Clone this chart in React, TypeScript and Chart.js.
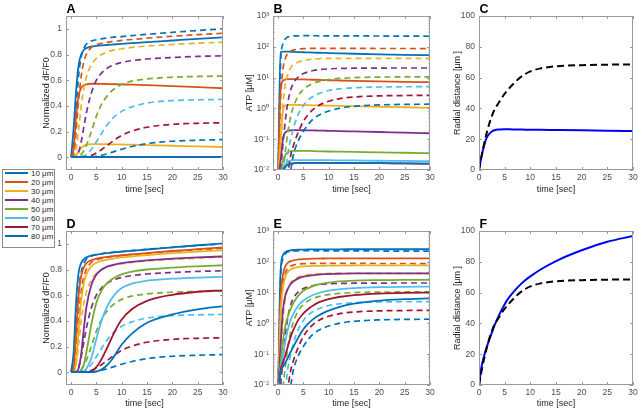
import React, { useEffect, useRef } from "react";
import { Chart, registerables } from "chart.js";

Chart.register(...registerables);

const W = 642;
const H = 410;
const FONT = "'Liberation Sans', Arial, Helvetica, sans-serif";
const TICK_COLOR = "#4d4d4d";
const TITLE_COLOR = "#262626";
const BOX_COLOR = "#9a9a9a";

// shared time axis [sec]
const T = [0, 0.5, 1, 1.5, 2, 2.5, 3, 4, 5, 6, 7, 8, 9, 10, 12, 15, 20, 25, 30];

const RADII = ["10 μm", "20 μm", "30 μm", "40 μm", "50 μm", "60 μm", "70 μm", "80 μm"];
const COLORS = ["#0072BD", "#D95319", "#EDB120", "#7E2F8E", "#77AC30", "#4DBEEE", "#A2142F", "#0072BD"];

const X_TICKS = [0, 5, 10, 15, 20, 25, 30];
const DF_TICKS = [0, 0.2, 0.4, 0.6, 0.8, 1];
const LOG_TICKS = [0.01, 0.1, 1, 10, 100, 1000];
const LOG_LABELS = ["10⁻²", "10⁻¹", "10⁰", "10¹", "10²", "10³"];
const RAD_TICKS = [0, 20, 40, 60, 80, 100];

// ---- Normalized dF/F0, dashed (A and D)
const DF_D10 = [0, 0.1, 0.38, 0.64, 0.78, 0.845, 0.88, 0.905, 0.915, 0.922, 0.928, 0.933, 0.937, 0.94, 0.947, 0.957, 0.973, 0.987, 1.0];
const DF_D20 = [0, 0.02, 0.2, 0.45, 0.63, 0.74, 0.8, 0.855, 0.875, 0.886, 0.894, 0.9, 0.905, 0.91, 0.917, 0.927, 0.942, 0.955, 0.966];
const DF_D30 = [0, 0, 0.06, 0.22, 0.4, 0.53, 0.62, 0.72, 0.77, 0.8, 0.818, 0.83, 0.838, 0.845, 0.855, 0.866, 0.878, 0.888, 0.896];
const DF_D40 = [0, 0, 0.005, 0.04, 0.12, 0.23, 0.34, 0.5, 0.6, 0.655, 0.69, 0.712, 0.727, 0.738, 0.752, 0.765, 0.777, 0.785, 0.79];
const DF_D50 = [0, 0, 0, 0.005, 0.02, 0.05, 0.09, 0.2, 0.32, 0.41, 0.47, 0.515, 0.545, 0.567, 0.593, 0.61, 0.623, 0.629, 0.632];
const DF_D60 = [0, 0, 0, 0, 0.003, 0.01, 0.02, 0.06, 0.12, 0.185, 0.245, 0.295, 0.33, 0.357, 0.392, 0.422, 0.441, 0.447, 0.45];
const DF_D70 = [0, 0, 0, 0, 0, 0, 0.004, 0.014, 0.033, 0.058, 0.087, 0.117, 0.145, 0.17, 0.203, 0.233, 0.256, 0.264, 0.268];
const DF_D80 = [0, 0, 0, 0, 0, 0, 0, 0.002, 0.007, 0.015, 0.025, 0.037, 0.05, 0.062, 0.083, 0.106, 0.124, 0.132, 0.137];

// ---- Normalized dF/F0, solid (A)
const DFA_S10 = [0, 0.22, 0.52, 0.72, 0.8, 0.835, 0.85, 0.862, 0.867, 0.871, 0.874, 0.877, 0.88, 0.883, 0.888, 0.896, 0.909, 0.922, 0.933];
const DFA_S20 = [0, 0.06, 0.32, 0.48, 0.54, 0.56, 0.568, 0.572, 0.572, 0.571, 0.57, 0.569, 0.568, 0.567, 0.565, 0.561, 0.554, 0.545, 0.537];
const DFA_S30 = [0, 0, 0.015, 0.045, 0.07, 0.087, 0.095, 0.101, 0.102, 0.102, 0.101, 0.1, 0.1, 0.099, 0.097, 0.094, 0.089, 0.084, 0.079];
const DFA_S40 = [0, 0, 0, 0, 0, 0, 0, 0, 0, 0, 0, 0, 0, 0, 0, 0, 0, 0, 0];
const DFA_S50 = [0, 0, 0, 0, 0, 0, 0, 0, 0, 0, 0, 0, 0, 0, 0, 0, 0, 0, 0];
const DFA_S60 = [0, 0, 0, 0, 0, 0, 0, 0, 0, 0, 0, 0, 0, 0, 0, 0, 0, 0, 0];
const DFA_S70 = [0, 0, 0, 0, 0, 0, 0, 0, 0, 0, 0, 0, 0, 0, 0, 0, 0, 0, 0];
const DFA_S80 = [0, 0, 0, 0, 0, 0, 0, 0, 0, 0, 0, 0, 0, 0, 0, 0, 0, 0, 0];

// ---- Normalized dF/F0, solid (D)
const DFD_S10 = [0, 0.15, 0.55, 0.78, 0.85, 0.88, 0.895, 0.908, 0.916, 0.922, 0.927, 0.931, 0.935, 0.939, 0.946, 0.956, 0.973, 0.989, 1.003];
const DFD_S20 = [0, 0.03, 0.3, 0.6, 0.75, 0.815, 0.848, 0.872, 0.884, 0.892, 0.898, 0.903, 0.907, 0.911, 0.918, 0.928, 0.944, 0.958, 0.972];
const DFD_S30 = [0, 0, 0.08, 0.33, 0.56, 0.69, 0.76, 0.825, 0.853, 0.867, 0.876, 0.883, 0.889, 0.894, 0.902, 0.913, 0.928, 0.94, 0.95];
const DFD_S40 = [0, 0, 0, 0.03, 0.14, 0.33, 0.5, 0.68, 0.76, 0.798, 0.82, 0.833, 0.842, 0.85, 0.86, 0.871, 0.884, 0.894, 0.902];
const DFD_S50 = [0, 0, 0, 0, 0.015, 0.06, 0.15, 0.37, 0.54, 0.635, 0.69, 0.722, 0.745, 0.762, 0.783, 0.8, 0.815, 0.825, 0.833];
const DFD_S60 = [0, 0, 0, 0, 0, 0.005, 0.025, 0.11, 0.26, 0.4, 0.5, 0.572, 0.622, 0.655, 0.69, 0.713, 0.729, 0.737, 0.743];
const DFD_S70 = [0, 0, 0, 0, 0, 0, 0, 0.01, 0.04, 0.1, 0.18, 0.265, 0.345, 0.41, 0.49, 0.555, 0.603, 0.626, 0.638];
const DFD_S80 = [0, 0, 0, 0, 0, 0, 0, 0, 0.005, 0.02, 0.05, 0.095, 0.155, 0.215, 0.3, 0.385, 0.45, 0.49, 0.515];

// ---- ATP [uM], dashed (B and E)
const ATP_D10 = [0.005, 30, 130, 185, 210, 220, 225, 228, 229, 229, 229, 228, 228, 228, 227, 226, 224, 222, 220];
const ATP_D20 = [0.005, 2, 20, 45, 62, 72, 78, 84, 87, 88, 89, 89, 89, 89, 89, 89, 88, 88, 87];
const ATP_D30 = [0.005, 0.05, 1.5, 7, 14, 21, 26, 32, 36, 38.5, 40, 41, 41.5, 42, 42, 42, 42, 42, 42];
const ATP_D40 = [0.005, 0.01, 0.08, 0.5, 1.8, 4, 6.5, 10.5, 13.5, 15.5, 17, 18, 18.7, 19.2, 19.8, 20.2, 20.4, 20.5, 20.5];
const ATP_D50 = [0.005, 0.005, 0.01, 0.05, 0.2, 0.55, 1.1, 2.6, 4.1, 5.4, 6.5, 7.4, 8.1, 8.6, 9.4, 10, 10.4, 10.5, 10.5];
const ATP_D60 = [0.005, 0.005, 0.005, 0.01, 0.04, 0.1, 0.22, 0.65, 1.25, 1.9, 2.5, 3.0, 3.45, 3.8, 4.3, 4.7, 4.95, 5.05, 5.1];
const ATP_D70 = [0.005, 0.005, 0.005, 0.005, 0.01, 0.03, 0.06, 0.17, 0.38, 0.65, 0.95, 1.25, 1.5, 1.7, 2.05, 2.35, 2.55, 2.62, 2.65];
const ATP_D80 = [0.005, 0.005, 0.005, 0.005, 0.005, 0.01, 0.03, 0.09, 0.18, 0.31, 0.46, 0.6, 0.72, 0.82, 1.0, 1.17, 1.3, 1.35, 1.37];

// ---- ATP [uM], solid (B)
const ATPB_S10 = [0.005, 68, 70, 70, 69.5, 69, 68.5, 67.5, 66.5, 65.5, 64.7, 64, 63.3, 62.6, 61.3, 59.5, 57, 55, 53.5];
const ATPB_S20 = [0.005, 4, 8, 8.7, 8.9, 8.9, 8.9, 8.8, 8.7, 8.6, 8.5, 8.4, 8.3, 8.2, 8.05, 7.85, 7.55, 7.3, 7.1];
const ATPB_S30 = [0.005, 0.1, 0.9, 1.25, 1.3, 1.3, 1.3, 1.29, 1.28, 1.27, 1.26, 1.25, 1.24, 1.23, 1.21, 1.18, 1.13, 1.09, 1.05];
const ATPB_S40 = [0.005, 0.02, 0.11, 0.17, 0.19, 0.195, 0.196, 0.196, 0.195, 0.194, 0.192, 0.19, 0.189, 0.187, 0.184, 0.179, 0.171, 0.163, 0.156];
const ATPB_S50 = [0.005, 0.008, 0.02, 0.032, 0.038, 0.041, 0.042, 0.042, 0.042, 0.0415, 0.041, 0.0405, 0.04, 0.0398, 0.0393, 0.0386, 0.0375, 0.0363, 0.0352];
const ATPB_S60 = [0.005, 0.007, 0.012, 0.016, 0.019, 0.02, 0.021, 0.021, 0.021, 0.021, 0.021, 0.021, 0.021, 0.0208, 0.0206, 0.0204, 0.02, 0.0197, 0.0193];
const ATPB_S70 = [0.005, 0.006, 0.01, 0.013, 0.015, 0.016, 0.0165, 0.017, 0.017, 0.017, 0.017, 0.017, 0.017, 0.017, 0.0169, 0.0168, 0.0166, 0.0163, 0.016];
const ATPB_S80 = [0.005, 0.006, 0.01, 0.013, 0.015, 0.016, 0.0165, 0.017, 0.017, 0.017, 0.017, 0.017, 0.017, 0.017, 0.0169, 0.0168, 0.0166, 0.0163, 0.016];

// ---- ATP [uM], solid (E)
const ATPE_S10 = [0.005, 50, 170, 210, 228, 237, 242, 247, 250, 252, 253, 254, 254, 255, 255, 256, 256, 256, 256];
const ATPE_S20 = [0.005, 6, 40, 75, 95, 105, 112, 119, 123, 125, 126.5, 127.5, 128, 128.5, 129, 129.5, 130, 130, 130];
const ATPE_S30 = [0.005, 2, 15, 35, 48, 56, 62, 68, 71, 72.5, 73.5, 74, 74.5, 75, 75.5, 76, 76, 76, 76];
const ATPE_S40 = [0.005, 0.2, 3, 9, 14, 19, 23, 29, 33, 35, 37, 38.5, 39.5, 40, 41, 42, 42, 42, 42];
const ATPE_S50 = [0.005, 0.05, 0.3, 0.9, 1.8, 3, 4.5, 8, 11.5, 14, 16.5, 18.5, 20, 21, 23, 24.5, 25.5, 26, 26];
const ATPE_S60 = [0.005, 0.035, 0.1, 0.3, 0.7, 1.3, 2, 3.8, 5.5, 7, 8.5, 9.7, 10.7, 11.5, 12.8, 14, 15, 15.4, 15.6];
const ATPE_S70 = [0.005, 0.03, 0.055, 0.1, 0.2, 0.37, 0.6, 1.3, 2.1, 3, 3.9, 4.8, 5.5, 6.1, 7.2, 8.3, 9.3, 9.8, 10];
const ATPE_S80 = [0.005, 0.025, 0.04, 0.055, 0.08, 0.12, 0.17, 0.35, 0.65, 1.0, 1.4, 1.8, 2.2, 2.6, 3.4, 4.4, 5.5, 6.1, 6.5];

// ---- Radial distance [um]
const RAD_DASHED = [0, 9, 17, 24, 30, 35, 39, 44.5, 49.5, 53.5, 57, 60, 62.3, 64, 66, 67.3, 68.1, 68.4, 68.5];
const RAD_C_SOLID = [0, 9, 16, 21, 23.5, 25, 25.8, 26.3, 26.4, 26.4, 26.3, 26.3, 26.2, 26.2, 26.1, 26, 25.8, 25.5, 25.3];
const RAD_F_SOLID = [0, 12, 19, 24.5, 29.5, 34, 38.5, 46, 52.5, 57.5, 61.5, 65, 68, 70.5, 75, 80.5, 87.5, 93, 96.7];

type Line = { values: number[]; color: string; dashed: boolean; width: number; dash?: number[] };
type PanelDef = {
  letter: string;
  l: number; t: number; r: number; b: number;
  yAxisW: number; xAxisH: number;
  xMin: number;
  yType: "linear" | "logarithmic";
  yMin: number; yMax: number;
  yTicks: number[];
  yLabels: string[];
  yTitle: string;
  lines: Line[];
};

function paired(solid: number[][], dashed: number[][]): Line[] {
  const out: Line[] = [];
  solid.forEach((s, i) => {
    out.push({ values: s, color: COLORS[i], dashed: false, width: 1.8 });
    out.push({ values: dashed[i], color: COLORS[i], dashed: true, width: 1.7 });
  });
  return out;
}

const DF_DASHED = [DF_D10, DF_D20, DF_D30, DF_D40, DF_D50, DF_D60, DF_D70, DF_D80];
const ATP_DASHED = [ATP_D10, ATP_D20, ATP_D30, ATP_D40, ATP_D50, ATP_D60, ATP_D70, ATP_D80];

const DF_LABELS = DF_TICKS.map((v) => String(v));
const RAD_LABELS = RAD_TICKS.map((v) => String(v));

const PANELS: PanelDef[] = [
  {
    letter: "A", l: 66, t: 16, r: 223, b: 170, yAxisW: 25, xAxisH: 25, xMin: -1,
    yType: "linear", yMin: -0.1, yMax: 1.1, yTicks: DF_TICKS, yLabels: DF_LABELS,
    yTitle: "Normalized dF/F0",
    lines: paired([DFA_S10, DFA_S20, DFA_S30, DFA_S40, DFA_S50, DFA_S60, DFA_S70, DFA_S80], DF_DASHED),
  },
  {
    letter: "B", l: 273, t: 16, r: 430, b: 170, yAxisW: 29, xAxisH: 25, xMin: -1,
    yType: "logarithmic", yMin: 0.01, yMax: 1000, yTicks: LOG_TICKS, yLabels: LOG_LABELS,
    yTitle: "ATP [μM]",
    lines: paired([ATPB_S10, ATPB_S20, ATPB_S30, ATPB_S40, ATPB_S50, ATPB_S60, ATPB_S70, ATPB_S80], ATP_DASHED),
  },
  {
    letter: "C", l: 479, t: 16, r: 633, b: 170, yAxisW: 27, xAxisH: 25, xMin: 0,
    yType: "linear", yMin: 0, yMax: 100, yTicks: RAD_TICKS, yLabels: RAD_LABELS,
    yTitle: "Radial distance [μm ]",
    lines: [
      { values: RAD_C_SOLID, color: "#0000ff", dashed: false, width: 2 },
      { values: RAD_DASHED, color: "#000000", dashed: true, width: 2, dash: [7, 4] },
    ],
  },
  {
    letter: "D", l: 66, t: 231, r: 223, b: 385, yAxisW: 25, xAxisH: 24, xMin: -1,
    yType: "linear", yMin: -0.1, yMax: 1.1, yTicks: DF_TICKS, yLabels: DF_LABELS,
    yTitle: "Normalized dF/F0",
    lines: paired([DFD_S10, DFD_S20, DFD_S30, DFD_S40, DFD_S50, DFD_S60, DFD_S70, DFD_S80], DF_DASHED),
  },
  {
    letter: "E", l: 273, t: 231, r: 430, b: 385, yAxisW: 29, xAxisH: 24, xMin: -1,
    yType: "logarithmic", yMin: 0.01, yMax: 1000, yTicks: LOG_TICKS, yLabels: LOG_LABELS,
    yTitle: "ATP [μM]",
    lines: paired([ATPE_S10, ATPE_S20, ATPE_S30, ATPE_S40, ATPE_S50, ATPE_S60, ATPE_S70, ATPE_S80], ATP_DASHED),
  },
  {
    letter: "F", l: 479, t: 231, r: 633, b: 385, yAxisW: 27, xAxisH: 24, xMin: 0,
    yType: "linear", yMin: 0, yMax: 100, yTicks: RAD_TICKS, yLabels: RAD_LABELS,
    yTitle: "Radial distance [μm ]",
    lines: [
      { values: RAD_F_SOLID, color: "#0000ff", dashed: false, width: 2 },
      { values: RAD_DASHED, color: "#000000", dashed: true, width: 2, dash: [7, 4] },
    ],
  },
];

const boxPlugin = {
  id: "matlabBox",
  afterDraw(chart: any, _args: any, opts: any) {
    const { ctx, chartArea: a, scales } = chart;
    const xs = scales.x;
    const ys = scales.y;
    ctx.save();
    ctx.strokeStyle = BOX_COLOR;
    ctx.lineWidth = 1;
    ctx.setLineDash([]);
    ctx.strokeRect(a.left + 0.5, a.top + 0.5, a.right - a.left - 1, a.bottom - a.top - 1);
    const L = 3;
    ctx.beginPath();
    xs.ticks.forEach((tk: any) => {
      const px = Math.round(xs.getPixelForValue(tk.value)) + 0.5;
      ctx.moveTo(px, a.bottom);
      ctx.lineTo(px, a.bottom - L);
      ctx.moveTo(px, a.top);
      ctx.lineTo(px, a.top + L);
    });
    ys.ticks.forEach((tk: any) => {
      const py = Math.round(ys.getPixelForValue(tk.value)) + 0.5;
      ctx.moveTo(a.left, py);
      ctx.lineTo(a.left + L, py);
      ctx.moveTo(a.right, py);
      ctx.lineTo(a.right - L, py);
    });
    if (opts.log) {
      for (let d = 0; d < LOG_TICKS.length - 1; d++) {
        for (let k = 2; k <= 9; k++) {
          const py = Math.round(ys.getPixelForValue(LOG_TICKS[d] * k)) + 0.5;
          ctx.moveTo(a.left, py);
          ctx.lineTo(a.left + 1.5, py);
          ctx.moveTo(a.right, py);
          ctx.lineTo(a.right - 1.5, py);
        }
      }
    }
    ctx.stroke();
    ctx.fillStyle = "#000";
    ctx.font = "bold 12.5px " + FONT;
    ctx.textAlign = "left";
    ctx.textBaseline = "alphabetic";
    ctx.fillText(opts.letter, a.left + 0.5, a.top - 3.3);
    ctx.restore();
  },
};

function PanelChart({ def }: { def: PanelDef }) {
  const ref = useRef<HTMLCanvasElement>(null);
  useEffect(() => {
    if (!ref.current) return;
    const n = def.lines.length;
    const chart = new Chart(ref.current, {
      type: "line",
      data: {
        datasets: def.lines.map((ln, i) => ({
          data: T.map((x, k) => ({ x, y: ln.values[k] })),
          borderColor: ln.color,
          backgroundColor: ln.color,
          borderWidth: ln.width,
          borderDash: ln.dashed ? ln.dash ?? [6, 4] : [],
          pointRadius: 0,
          fill: false,
          cubicInterpolationMode: "monotone",
          order: n - i,
        })),
      },
      options: {
        responsive: false,
        animation: false,
        devicePixelRatio: 1,
        events: [],
        layout: {
          padding: { left: def.l - def.yAxisW, top: def.t, right: W - def.r, bottom: H - def.b - def.xAxisH },
        },
        plugins: {
          legend: { display: false },
          tooltip: { enabled: false },
          matlabBox: { letter: def.letter, log: def.yType === "logarithmic" },
        },
        scales: {
          x: {
            type: "linear",
            min: def.xMin,
            max: 30,
            afterBuildTicks: (s: any) => {
              s.ticks = X_TICKS.map((v) => ({ value: v }));
            },
            afterFit: (s: any) => {
              s.height = def.xAxisH;
            },
            grid: { display: false, drawTicks: false, tickLength: 0 },
            border: { display: false },
            ticks: {
              padding: 3,
              color: TICK_COLOR,
              font: { family: FONT, size: 8.5 },
              autoSkip: false,
              maxRotation: 0,
              callback: (_v: any, i: number) => String(X_TICKS[i]),
            },
            title: {
              display: true,
              text: "time [sec]",
              color: TITLE_COLOR,
              font: { family: FONT, size: 9 },
              padding: 0,
            },
          },
          y: {
            type: def.yType,
            min: def.yMin,
            max: def.yMax,
            afterBuildTicks: (s: any) => {
              s.ticks = def.yTicks.map((v) => ({ value: v }));
            },
            afterFit: (s: any) => {
              s.width = def.yAxisW;
            },
            grid: { display: false, drawTicks: false, tickLength: 0 },
            border: { display: false },
            ticks: {
              padding: 4,
              color: TICK_COLOR,
              font: { family: FONT, size: 8.5 },
              autoSkip: false,
              callback: (_v: any, i: number) => def.yLabels[i],
            },
            title: {
              display: true,
              text: def.yTitle,
              color: TITLE_COLOR,
              font: { family: FONT, size: 9 },
              padding: 0,
            },
          },
        },
      } as any,
      plugins: [boxPlugin as any],
    });
    return () => chart.destroy();
  }, [def]);
  return (
    <canvas
      ref={ref}
      width={W}
      height={H}
      style={{ position: "absolute", left: 0, top: 0, width: W, height: H }}
    />
  );
}

function Legend() {
  return (
    <div
      style={{
        position: "absolute",
        left: 2,
        top: 169,
        width: 51,
        height: 77,
        border: "1px solid #8c8c8c",
        background: "#fff",
        zIndex: 5,
      }}
    >
      {RADII.map((r, i) => (
        <div
          key={r}
          style={{
            position: "absolute",
            left: 2,
            top: -1.2 + i * 9,
            height: 9,
            display: "flex",
            alignItems: "center",
          }}
        >
          <span style={{ display: "inline-block", width: 23, height: 2, background: COLORS[i] }} />
          <span
            style={{
              marginLeft: 3,
              fontFamily: FONT,
              fontSize: 8,
              color: "#262626",
              whiteSpace: "nowrap",
              lineHeight: "9px",
            }}
          >
            {r}
          </span>
        </div>
      ))}
    </div>
  );
}

export default function App() {
  return (
    <div
      style={{
        position: "absolute",
        left: 0,
        top: 0,
        width: W,
        height: H,
        background: "#fff",
        overflow: "hidden",
      }}
    >
      {PANELS.map((p) => (
        <PanelChart key={p.letter} def={p} />
      ))}
      <Legend />
    </div>
  );
}
